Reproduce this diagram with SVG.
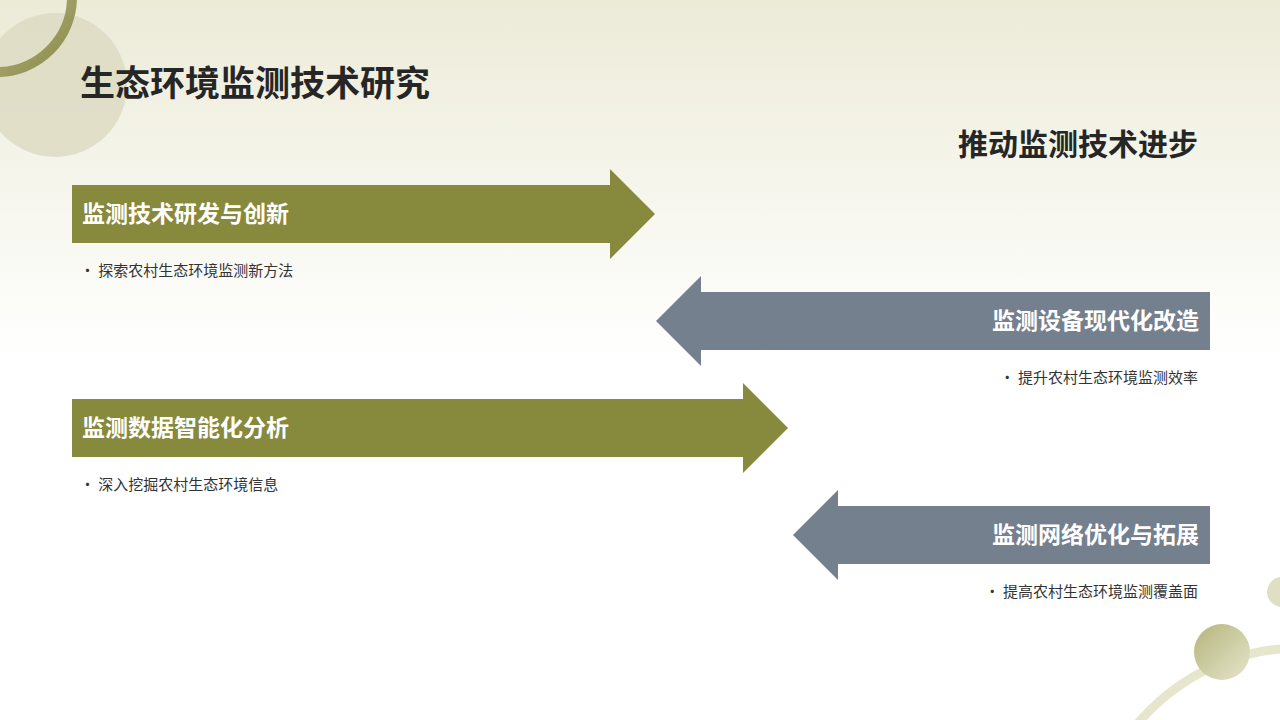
<svg xmlns="http://www.w3.org/2000/svg" width="1280" height="720" viewBox="0 0 1280 720">
<defs>
<linearGradient id="bg" x1="0" y1="0" x2="0" y2="1"><stop offset="0" stop-color="#ecebd8"/><stop offset="0.5" stop-color="#ffffff"/></linearGradient>
<linearGradient id="ball" x1="0" y1="0" x2="1" y2="1"><stop offset="0" stop-color="#b4b47c"/><stop offset="1" stop-color="#e6e6cc"/></linearGradient>
<linearGradient id="ring" x1="0" y1="0" x2="1" y2="1"><stop offset="0" stop-color="#dedcb4"/><stop offset="1" stop-color="#8a8a4a"/></linearGradient>
<style>
.t{font-family:"Noto Sans CJK SC","Liberation Sans",sans-serif}
.g{fill:#87893d}.b{fill:#75808f}
.lab{font-size:23px;font-weight:bold;fill:#fff}
.sub{font-size:15px;fill:#333}
</style>
</defs>
<rect width="1280" height="720" fill="url(#bg)"/>
<circle cx="55" cy="85" r="72" fill="#dcdac0" opacity="0.8"/>
<circle cx="-3" cy="-3" r="75" fill="none" stroke="url(#ring)" stroke-width="10"/>
<circle cx="1300" cy="860" r="212" fill="none" stroke="#e6e6cc" stroke-width="9"/>
<circle cx="1222" cy="652" r="28" fill="url(#ball)"/>
<circle cx="1282" cy="592" r="15" fill="#e0dfc4"/>
<text class="t" x="80" y="96" font-size="35" font-weight="bold" fill="#262626">生态环境监测技术研究</text>
<text class="t" x="1198" y="155" font-size="30" font-weight="bold" fill="#262626" text-anchor="end">推动监测技术进步</text>
<g id="connectors"></g>
<g id="n1"><polygon class="g" points="72,185 610,185 610,169 655,214 610,259 610,243 72,243"/><text class="t lab" x="82" y="222">监测技术研发与创新</text><text class="t sub" x="80" y="276">•   探索农村生态环境监测新方法</text></g>
<g id="n2"><polygon class="b" points="1210,292 701,292 701,276 656,321 701,366 701,350 1210,350"/><text class="t lab" x="1199" y="329" text-anchor="end">监测设备现代化改造</text><text class="t sub" x="1198" y="383" text-anchor="end">•   提升农村生态环境监测效率</text></g>
<g id="n3"><polygon class="g" points="72,399 743,399 743,383 788,428 743,473 743,457 72,457"/><text class="t lab" x="82" y="436">监测数据智能化分析</text><text class="t sub" x="80" y="490">•   深入挖掘农村生态环境信息</text></g>
<g id="n4"><polygon class="b" points="1210,506 838,506 838,490 793,535 838,580 838,564 1210,564"/><text class="t lab" x="1199" y="543" text-anchor="end">监测网络优化与拓展</text><text class="t sub" x="1198" y="597" text-anchor="end">•   提高农村生态环境监测覆盖面</text></g>
</svg>
